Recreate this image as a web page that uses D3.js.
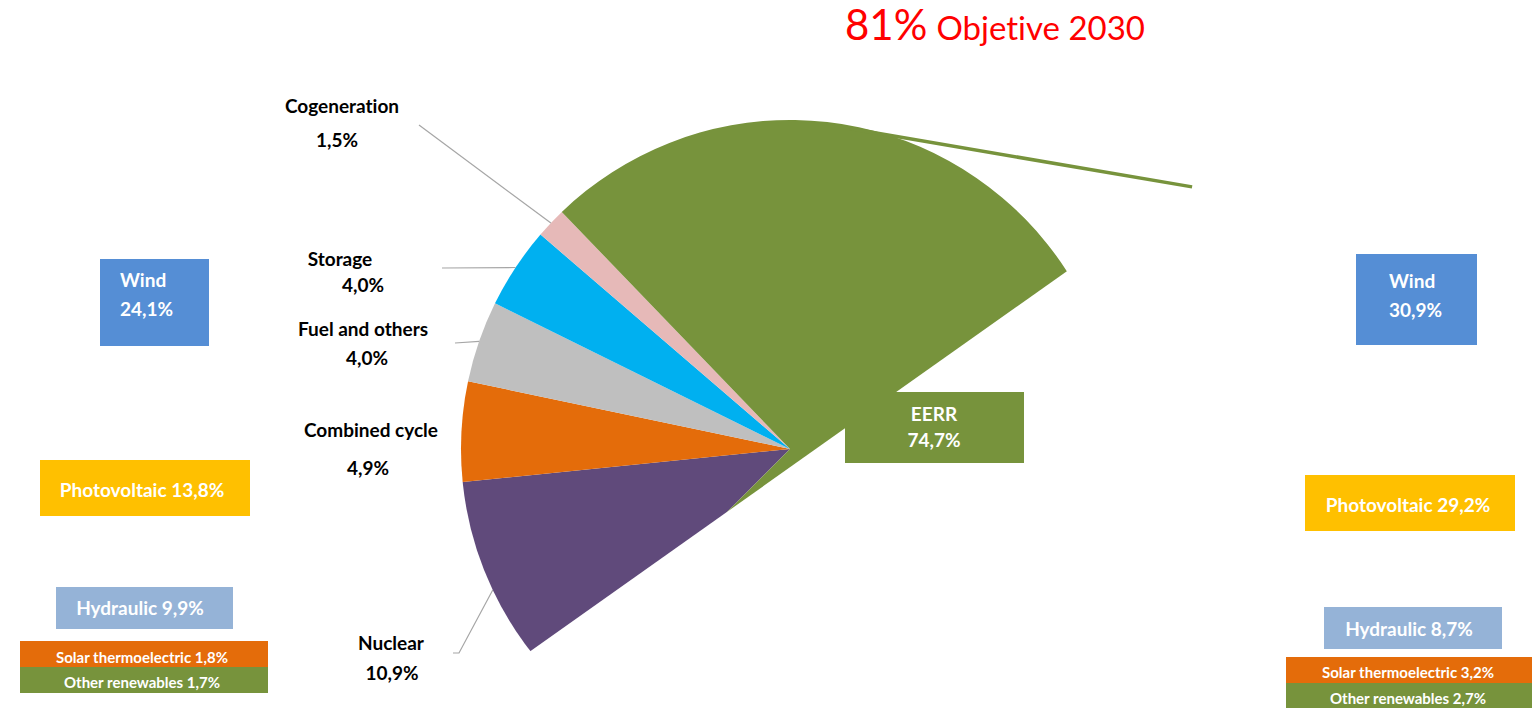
<!DOCTYPE html>
<html>
<head>
<meta charset="utf-8">
<script src="https://cdn.jsdelivr.net/npm/d3@7"></script>
<style>
  html, body { margin: 0; padding: 0; background: #fff; overflow: hidden; }
  text { font-family: Lato, "Open Sans", sans-serif; font-variant-ligatures: none; font-feature-settings: "liga" 0, "clig" 0; }
</style>
</head>
<body>
<svg id="chart" width="1532" height="708"></svg>
<script>
// Generation mix shares (%)
const sources = ["Nuclear", "Combined cycle", "Fuel and others", "Storage", "Cogeneration", "EERR"];
const shares = [10.9, 4.9, 4.0, 4.0, 1.5, 74.7];
const sliceColors = ["#604A7B", "#E46C0A", "#BFBFBF", "#00B0F0", "#E6B9B8", "#77933C"];

// Renewable breakdown (% of generation)
const renewables = ["Wind", "Photovoltaic", "Hydraulic", "Solar thermoelectric", "Other renewables"];
const renewablesNow = [24.1, 13.8, 9.9, 1.8, 1.7];
const renewables2030 = [30.9, 29.2, 8.7, 3.2, 2.7];
const renewableColors = ["#558ED5", "#FFC000", "#95B3D7", "#E46C0A", "#77933C"];

// Headline objective
const objectiveShare = 81;
const objectiveText = "Objetive 2030";

const locale = d3.formatLocale({ decimal: ",", thousands: ".", grouping: [3], currency: ["", " €"] });
const f1 = locale.format(".1f");
const pct = v => f1(v) + "%";

const svg = d3.select("#chart");
const deg = Math.PI / 180;
const labelSize = 19;

// ---- Pie ----
const cx = 790, cy = 449, R = 329;
const pie = d3.pie().sort(null).startAngle(225 * deg).endAngle(585 * deg);
const arcs = pie(shares);
const arc = d3.arc().innerRadius(0).outerRadius(R);

// The lower-right part of the pie is cut away along a chord
const p1 = d3.pointRadial(57.3 * deg, R);
const p2 = d3.pointRadial(232.1 * deg, R);
const d = [p1[0] - p2[0], p1[1] - p2[1]];
let n = [-d[1], d[0]];
const nl = Math.hypot(n[0], n[1]);
n = [n[0] / nl, n[1] / nl];
if (n[0] * -p2[0] + n[1] * -p2[1] < 0) n = [-n[0], -n[1]];
const A = [p2[0] - d[0], p2[1] - d[1]];
const B = [p1[0] + d[0], p1[1] + d[1]];
const big = 3000;
const clipPts = [A, B, [B[0] + n[0] * big, B[1] + n[1] * big], [A[0] + n[0] * big, A[1] + n[1] * big]];

const defs = svg.append("defs");
defs.append("clipPath").attr("id", "pieCut")
  .append("polygon").attr("points", clipPts.map(p => p.join(",")).join(" "));

const pieG = svg.append("g").attr("transform", `translate(${cx},${cy})`);
pieG.append("g").attr("clip-path", "url(#pieCut)")
  .selectAll("path").data(arcs).join("path")
  .attr("d", arc)
  .attr("fill", (a, i) => sliceColors[i]);

// Long pointer stroke from the EERR slice
const s0 = d3.pointRadial(10.6 * deg, R - 3);
const s1 = d3.pointRadial(56.9 * deg, 480);
pieG.append("line")
  .attr("x1", s0[0]).attr("y1", s0[1]).attr("x2", s1[0]).attr("y2", s1[1])
  .attr("stroke", sliceColors[5]).attr("stroke-width", 3.5);

// ---- Slice labels ----
const sliceLabelLayout = [
  { name: [391, 650], value: [392, 680], leader: [[453, 653], [459, 653]] },
  { name: [371, 437], value: [368, 475], leader: null },
  { name: [363, 336], value: [367, 365], leader: [[455, 343]] },
  { name: [340, 266], value: [363, 292], leader: [[442, 268]] },
  { name: [342, 113], value: [337, 147], leader: [[419, 125]] }
];

const labelsG = svg.append("g");
sliceLabelLayout.forEach((L, i) => {
  const a = arcs[i];
  if (L.leader) {
    const mid = (a.startAngle + a.endAngle) / 2;
    const e = d3.pointRadial(mid, R);
    const pts = L.leader.concat([[cx + e[0], cy + e[1]]]);
    labelsG.append("path")
      .attr("d", d3.line()(pts))
      .attr("fill", "none").attr("stroke", "#A6A6A6").attr("stroke-width", 1.2);
  }
  labelsG.append("text").attr("x", L.name[0]).attr("y", L.name[1])
    .attr("text-anchor", "middle").attr("font-size", labelSize).attr("font-weight", 700)
    .attr("fill", "#000").text(sources[i]);
  labelsG.append("text").attr("x", L.value[0]).attr("y", L.value[1])
    .attr("text-anchor", "middle").attr("font-size", labelSize).attr("font-weight", 700)
    .attr("fill", "#000").text(pct(shares[i]));
});

// EERR label box
const eerr = svg.append("g");
eerr.append("rect").attr("x", 845).attr("y", 392).attr("width", 179).attr("height", 71)
  .attr("fill", sliceColors[5]);
eerr.append("text").attr("x", 934).attr("y", 421).attr("text-anchor", "middle")
  .attr("font-size", labelSize).attr("font-weight", 700).attr("fill", "#fff").text(sources[5]);
eerr.append("text").attr("x", 934).attr("y", 447).attr("text-anchor", "middle")
  .attr("font-size", labelSize).attr("font-weight", 700).attr("fill", "#fff").text(pct(shares[5]));

// ---- Renewable breakdown boxes ----
const leftBoxes = [
  { rect: [100, 259, 109, 87], lines: true, tx: 120, ty: [287, 316], size: 19 },
  { rect: [40, 460, 210, 56], tx: 142, ty: [497], size: 19 },
  { rect: [56, 587, 177, 42], tx: 140, ty: [615], size: 19 },
  { rect: [20, 641, 248, 26], tx: 142, ty: [663], size: 15 },
  { rect: [20, 667, 248, 26], tx: 142, ty: [688], size: 15 }
];
const rightBoxes = [
  { rect: [1356, 254, 121, 91], lines: true, tx: 1389, ty: [288, 317], size: 19 },
  { rect: [1305, 475, 210, 56], tx: 1408, ty: [512], size: 19 },
  { rect: [1324, 607, 178, 42], tx: 1409, ty: [636], size: 19 },
  { rect: [1286, 657, 250, 26], tx: 1408, ty: [678], size: 15 },
  { rect: [1286, 683, 250, 26], tx: 1408, ty: [704], size: 15 }
];

function drawBoxes(layout, values) {
  const g = svg.append("g");
  layout.forEach((b, i) => {
    g.append("rect").attr("x", b.rect[0]).attr("y", b.rect[1])
      .attr("width", b.rect[2]).attr("height", b.rect[3]).attr("fill", renewableColors[i]);
    const t = g.append("text").attr("fill", "#fff").attr("font-weight", 700)
      .attr("font-size", b.size);
    if (b.lines) {
      t.attr("text-anchor", "start");
      t.append("tspan").attr("x", b.tx).attr("y", b.ty[0]).text(renewables[i]);
      t.append("tspan").attr("x", b.tx).attr("y", b.ty[1]).text(pct(values[i]));
    } else {
      t.attr("text-anchor", "middle").attr("x", b.tx).attr("y", b.ty[0])
        .text(renewables[i] + " " + pct(values[i]));
    }
  });
}
drawBoxes(leftBoxes, renewablesNow);
drawBoxes(rightBoxes, renewables2030);

// ---- Headline ----
const title = svg.append("text").attr("x", 845).attr("y", 40).attr("fill", "#FF0000");
title.append("tspan").attr("font-size", 42).text(objectiveShare + "%");
title.append("tspan").attr("font-size", 33).attr("dx", 9).text(objectiveText);
</script>
</body>
</html>
